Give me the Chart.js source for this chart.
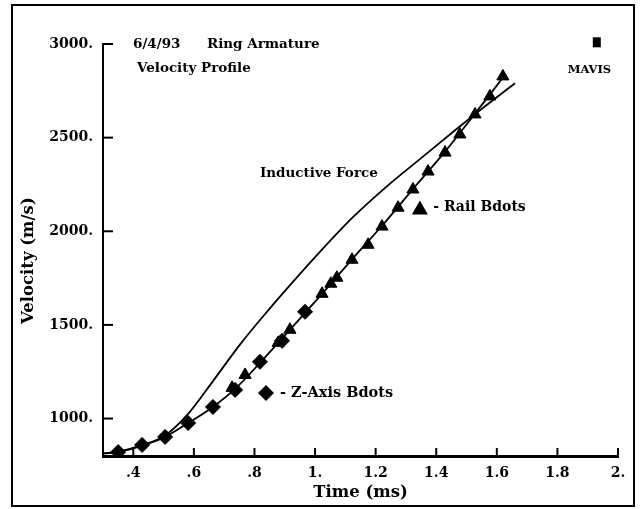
<!DOCTYPE html>
<html>
<head>
<meta charset="utf-8">
<script src="https://cdn.jsdelivr.net/npm/chart.js@4/dist/chart.umd.min.js"></script>
<style>
  html,body{margin:0;padding:0;background:#fff;}
  #wrap{width:642px;height:509px;}
</style>
</head>
<body>
<div id="wrap"><canvas id="c" width="642" height="509"></canvas></div>
<script>
// ---- data ----
const zAxisTimes = [0.350, 0.429, 0.505, 0.581, 0.663, 0.736, 0.818, 0.891, 0.967];
const zAxisVel   = [821, 859, 902, 976, 1062, 1153, 1303, 1415, 1570];

const railTimes = [0.726, 0.769, 0.878, 0.917, 1.023, 1.052, 1.072, 1.122, 1.175, 1.221, 1.274, 1.323, 1.373, 1.429, 1.478, 1.528, 1.577, 1.620];
const railVel   = [1164, 1233, 1404, 1474, 1666, 1720, 1752, 1848, 1928, 2025, 2126, 2223, 2319, 2420, 2517, 2624, 2720, 2827];

const fitTimes = [0.303, 0.350, 0.429, 0.505, 0.581, 0.663, 0.736, 0.818, 0.917, 1.023, 1.122, 1.224, 1.323, 1.429, 1.528, 1.627];
const fitVel   = [814, 821, 855, 902, 976, 1062, 1158, 1297, 1474, 1666, 1850, 2035, 2225, 2425, 2628, 2835];

const inductiveTimes = [0.303, 0.350, 0.429, 0.505, 0.581, 0.663, 0.752, 0.841, 0.927, 1.016, 1.125, 1.237, 1.346, 1.455, 1.528, 1.660];
const inductiveVel   = [814, 823, 858, 910, 1025, 1200, 1395, 1570, 1730, 1890, 2075, 2240, 2385, 2530, 2625, 2790];

const xTickValues = [0.4, 0.6, 0.8, 1.0, 1.2, 1.4, 1.6, 1.8, 2.0];
const xTickLabels = ['.4', '.6', '.8', '1.', '1.2', '1.4', '1.6', '1.8', '2.'];
const yTickValues = [1000, 1500, 2000, 2500, 3000];
const yTickLabels = ['1000.', '1500.', '2000.', '2500.', '3000.'];

const xTitle = 'Time (ms)';
const yTitle = 'Velocity (m/s)';

const toPts = (xs, ys) => xs.map((x, i) => ({x: x, y: ys[i]}));

// annotations anchored in data space
const notes = [
  {text: '6/4/93', t: 0.399, v: 3000, size: 13.5},
  {text: 'Ring Armature', t: 0.643, v: 3000, size: 13.5},
  {text: 'Velocity Profile', t: 0.412, v: 2868, size: 13.5},
  {text: 'Inductive Force', t: 0.818, v: 2308, size: 13.5},
  {text: '- Rail Bdots', t: 1.390, v: 2126, size: 14},
  {text: '- Z-Axis Bdots', t: 0.884, v: 1137, size: 14.5},
  {text: 'MAVIS', t: 1.834, v: 2862, size: 11.5}
];
const glyphs = [
  {shape: 'triangle', t: 1.346, v: 2122},
  {shape: 'diamond', t: 0.838, v: 1137},
  {shape: 'square', t: 1.930, v: 3009}
];

const FONT = "'DejaVu Serif', serif";

const decor = {
  id: 'decor',
  beforeDraw(chart) {
    const c = chart.ctx;
    c.save();
    c.fillStyle = '#fff';
    c.fillRect(0, 0, chart.width, chart.height);
    c.restore();
  },
  afterDraw(chart) {
    const c = chart.ctx, xs = chart.scales.x, ys = chart.scales.y;
    c.save();
    c.strokeStyle = '#000';
    c.fillStyle = '#000';
    // outer frame
    c.lineWidth = 2;
    c.strokeRect(12, 5, 622, 501);
    // inward ticks
    c.lineWidth = 2;
    ys.ticks.forEach(t => {
      const py = ys.getPixelForValue(t.value);
      c.beginPath(); c.moveTo(xs.left, py); c.lineTo(xs.left + 10, py); c.stroke();
    });
    xs.ticks.forEach(t => {
      const px = xs.getPixelForValue(t.value);
      c.beginPath(); c.moveTo(px, ys.bottom); c.lineTo(px, ys.bottom - 8); c.stroke();
    });
    // y axis title
    c.save();
    c.font = "bold 16.5px " + FONT;
    c.textAlign = 'center';
    c.textBaseline = 'middle';
    c.translate(29, ys.getPixelForValue(1843));
    c.rotate(-Math.PI / 2);
    c.fillText(yTitle, 0, 0);
    c.restore();
    // annotation texts
    c.textBaseline = 'middle';
    c.textAlign = 'left';
    notes.forEach(n => {
      c.font = "bold " + n.size + "px " + FONT;
      c.fillText(n.text, xs.getPixelForValue(n.t), ys.getPixelForValue(n.v));
    });
    // legend glyphs
    glyphs.forEach(g => {
      const px = xs.getPixelForValue(g.t), py = ys.getPixelForValue(g.v);
      c.beginPath();
      if (g.shape === 'triangle') {
        c.moveTo(px, py - 8); c.lineTo(px + 8, py + 6); c.lineTo(px - 8, py + 6);
      } else if (g.shape === 'diamond') {
        c.moveTo(px, py - 8); c.lineTo(px + 8, py); c.lineTo(px, py + 8); c.lineTo(px - 8, py);
      } else {
        c.rect(px - 4, py - 5, 8, 10);
      }
      c.closePath();
      c.fill();
    });
    c.restore();
  }
};

new Chart(document.getElementById('c'), {
  type: 'scatter',
  data: {
    datasets: [
      {
        label: 'Inductive Force',
        data: toPts(inductiveTimes, inductiveVel),
        showLine: true, pointRadius: 0, borderColor: '#000', borderWidth: 1.8,
        cubicInterpolationMode: 'monotone', fill: false
      },
      {
        label: 'Fit',
        data: toPts(fitTimes, fitVel),
        showLine: true, pointRadius: 0, borderColor: '#000', borderWidth: 1.8,
        cubicInterpolationMode: 'monotone', fill: false
      },
      {
        label: 'Rail Bdots',
        data: toPts(railTimes, railVel),
        showLine: false, pointStyle: 'triangle', pointRadius: 7,
        backgroundColor: '#000', borderColor: '#000', borderWidth: 1
      },
      {
        label: 'Z-Axis Bdots',
        data: toPts(zAxisTimes, zAxisVel),
        showLine: false, pointStyle: 'rectRot', pointRadius: 7.5,
        backgroundColor: '#000', borderColor: '#000', borderWidth: 1
      }
    ]
  },
  options: {
    responsive: false,
    animation: false,
    layout: {padding: {left: 12, right: 24, top: 44, bottom: 6}},
    plugins: {legend: {display: false}, tooltip: {enabled: false}},
    scales: {
      x: {
        type: 'linear', min: 0.3, max: 2.0,
        afterBuildTicks: s => { s.ticks = xTickValues.map(v => ({value: v})); },
        afterFit: s => { s.height = 47; },
        ticks: {
          color: '#000', padding: 9, maxRotation: 0, autoSkip: false,
          font: {family: FONT, size: 14, weight: 'bold'},
          callback: (v) => { const i = xTickValues.findIndex(t => Math.abs(t - v) < 1e-6); return i >= 0 ? xTickLabels[i] : ''; }
        },
        grid: {display: true, drawOnChartArea: false, drawTicks: false},
        border: {display: true, color: '#000', width: 3},
        title: {display: true, text: xTitle, color: '#000', padding: {top: 0, bottom: 0},
                font: {family: FONT, size: 16.5, weight: 'bold'}}
      },
      y: {
        type: 'linear', min: 800, max: 3000,
        afterBuildTicks: s => { s.ticks = yTickValues.map(v => ({value: v})); },
        afterFit: s => { s.width = 91; },
        ticks: {
          color: '#000', padding: 10, autoSkip: false,
          font: {family: FONT, size: 14, weight: 'bold'},
          callback: (v) => { const i = yTickValues.indexOf(v); return i >= 0 ? yTickLabels[i] : ''; }
        },
        grid: {display: true, drawOnChartArea: false, drawTicks: false},
        border: {display: true, color: '#000', width: 2},
        title: {display: false}
      }
    }
  },
  plugins: [decor]
});
</script>
</body>
</html>
